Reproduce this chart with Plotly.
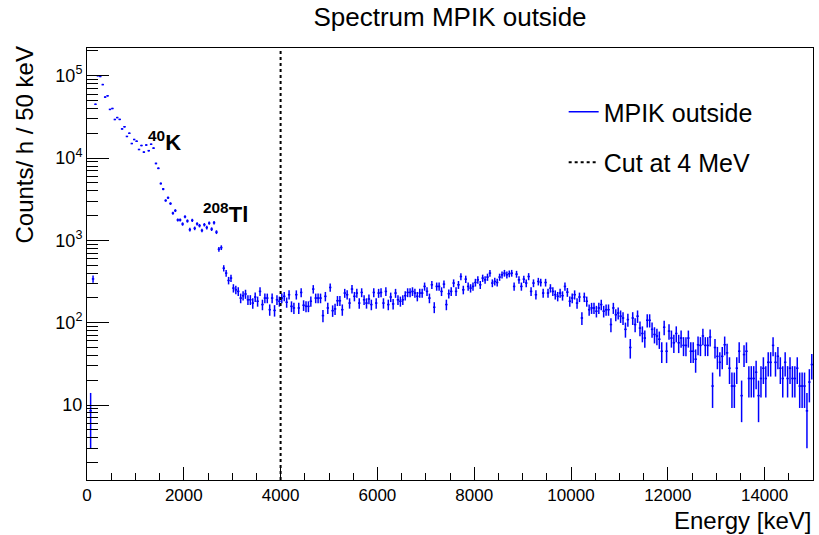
import numpy as np
import plotly.graph_objects as go

# ---------------- data ----------------
BIN_WIDTH_KEV = 50
N_BINS = 300
LIVE_TIME_H = 0.28  # used for Poisson error bars on counts/h

counts_per_h = [
    None, 8.5, 340, 45000, 100000, 98000, 78000, 55000, 57000, 39000,
    40000, 29400, 31000, 29500, 22600, 24000, 18300, 20000, 15000, 16800,
    16000, 12700, 14200, 11800, 14400, 12300, 14700, 13200, 8600, 7500,
    4900, 4200, 3050, 3300, 2800, 2140, 2300, 1770, 1770, 1580,
    1940, 1720, 1350, 1750, 1400, 1590, 1510, 1320, 1550, 1430,
    1620, 1370, 1640, 1260, 780, 817, 459, 400, 326, 348,
    263, 251, 240, 199, 213, 223, 190, 190, 173, 205,
    182, 240, 166, 199, 199, 144, 199, 141, 190, 182,
    199, 209, 177, 219, 158, 151, 219, 151, 233, 163,
    158, 158, 182, 256, 199, 199, 199, 122, 209, 151,
    268, 140, 147, 185, 185, 144, 229, 219, 173, 256,
    209, 229, 173, 233, 190, 173, 194, 166, 233, 173,
    229, 233, 173, 240, 166, 205, 169, 229, 190, 182,
    190, 213, 233, 233, 240, 229, 209, 229, 229, 276,
    240, 199, 289, 154, 276, 276, 240, 294, 166, 225,
    240, 303, 240, 289, 364, 251, 338, 276, 263, 276,
    308, 332, 289, 348, 332, 358, 400, 303, 317, 308,
    358, 382, 400, 382, 393, 400, 276, 389, 332, 276,
    338, 303, 364, 240, 303, 219, 317, 308, 229, 308,
    229, 263, 240, 219, 209, 229, 213, 276, 235, 182,
    199, 219, 173, 205, 114, 205, 182, 144, 151, 151,
    138, 151, 166, 138, 144, 144, 95, 151, 125, 131,
    120, 114, 83, 109, 50, 114, 95, 120, 86, 74,
    65, 107, 107, 83, 72, 69, 63, 45, 88, 45,
    79, 65, 57, 74, 57, 65, 53, 53, 65, 45,
    45, 36, 54, 53, 69, 53, 53, 67, 17, 50,
    39, 33, 39, 54, 43, 28, 17, 17, 28, 45,
    13, 41, 45, 21, 21, 21, 25, 13, 21, 28,
    21, 33, 33, 53, 33, 39, 28, 21, 33, 21,
    28, 21, 21, 28, 17, 17, 17, 8.5, 19, 31,
]

CUT_KEV = 4000
x_tick_vals = [0, 2000, 4000, 6000, 8000, 10000, 12000, 14000]
x_tick_text = ["0", "2000", "4000", "6000", "8000", "10000", "12000", "14000"]
x_minor_vals = [500 * k for k in range(0, 31) if (500 * k) % 2000 != 0]
y_tick_vals = [10, 100, 1000, 10000, 100000]
y_tick_text = ["10", "10<sup>2</sup>", "10<sup>3</sup>", "10<sup>4</sup>", "10<sup>5</sup>"]
y_minor_vals = [m * 10 ** d for d in range(0, 6) for m in range(2, 10)]

# ---------------- derived ----------------
bin_centers = [BIN_WIDTH_KEV * (i + 0.5) for i in range(N_BINS)]
vals = np.array([np.nan if v is None else v for v in counts_per_h], dtype=float)
errs = np.sqrt(vals / LIVE_TIME_H)

FONT = "Liberation Sans, Arial, Helvetica, sans-serif"
BLUE = "#0000ff"

fig = go.Figure()

fig.add_trace(go.Scatter(
    x=bin_centers, y=vals.tolist(),
    mode="markers",
    marker=dict(size=1.5, color=BLUE),
    error_y=dict(type="data", array=errs.tolist(), visible=True,
                 color=BLUE, thickness=1.5, width=0),
    error_x=dict(type="constant", value=BIN_WIDTH_KEV / 2, visible=True,
                 color=BLUE, thickness=1.5, width=0),
    showlegend=False, hoverinfo="x+y",
))

# legend proxies
fig.add_trace(go.Scatter(x=[None], y=[None], mode="lines",
                         line=dict(color=BLUE, width=1.5),
                         name="MPIK outside", legendgroup="a"))
fig.add_trace(go.Scatter(x=[None], y=[None], mode="lines",
                         line=dict(color="black", width=2, dash="dot"),
                         name="Cut at 4 MeV", legendgroup="b"))

fig.add_shape(type="line", x0=CUT_KEV, x1=CUT_KEV, y0=0, y1=1,
              xref="x", yref="paper",
              line=dict(color="black", width=2, dash="dot"))

L, R, T, B = 87, 5.5, 48, 55
W, H = 819, 535
pw, ph = W - L - R, H - T - B

def px2paper(px, py):
    return (px - L) / pw, (H - B - py) / ph

ax, ay = px2paper(146, 141)
fig.add_annotation(text="<b><sup>40</sup>K</b>", x=ax, y=ay, xref="paper", yref="paper",
                   xanchor="left", yanchor="middle", showarrow=False,
                   font=dict(family=FONT, size=22, color="black"))
ax, ay = px2paper(201, 213)
fig.add_annotation(text="<b><sup>208</sup>Tl</b>", x=ax, y=ay, xref="paper", yref="paper",
                   xanchor="left", yanchor="middle", showarrow=False,
                   font=dict(family=FONT, size=22, color="black"))

ax, ay = px2paper(24, 45)
fig.add_annotation(text="Counts/ h / 50 keV", x=ax, y=ay, xref="paper", yref="paper",
                   xanchor="center", yanchor="top", textangle=-90, showarrow=False,
                   font=dict(family=FONT, size=24, color="black"))
ax, ay = px2paper(813.5, 520)
fig.add_annotation(text="Energy [keV]", x=ax, y=ay, xref="paper", yref="paper",
                   xanchor="right", yanchor="middle", showarrow=False,
                   font=dict(family=FONT, size=24, color="black"))

fig.update_layout(
    width=W, height=H,
    margin=dict(l=L, r=R, t=T, b=B),
    paper_bgcolor="white", plot_bgcolor="white",
    font=dict(family=FONT, size=17, color="black"),
    title=dict(text="Spectrum MPIK outside", x=450 / W, xanchor="center",
               y=1 - 17 / H, yanchor="middle", xref="container", yref="container",
               font=dict(family=FONT, size=26, color="black")),
    legend=dict(x=px2paper(564, 0)[0], y=px2paper(0, 89)[1], xanchor="left", yanchor="top",
                bgcolor="rgba(0,0,0,0)", borderwidth=0, tracegroupgap=15,
                font=dict(family=FONT, size=25, color="black")),
    xaxis=dict(range=[0, 15000], tickmode="array", tickvals=x_tick_vals, ticktext=x_tick_text,
               ticks="inside", ticklen=13, tickwidth=1, tickcolor="black",
               minor=dict(tickmode="array", tickvals=x_minor_vals, ticks="inside",
                          ticklen=7, tickwidth=1, tickcolor="black", showgrid=False),
               showline=True, mirror=True, linecolor="black", linewidth=1,
               showgrid=False, zeroline=False,
               tickfont=dict(family=FONT, size=17)),
    yaxis=dict(type="log", range=[0.089, 5.337],
               tickmode="array", tickvals=y_tick_vals, ticktext=y_tick_text,
               ticks="inside", ticklen=22, tickwidth=1, tickcolor="black",
               minor=dict(tickmode="array", tickvals=y_minor_vals, ticks="inside",
                          ticklen=11, tickwidth=1, tickcolor="black", showgrid=False),
               showline=True, mirror=True, linecolor="black", linewidth=1,
               showgrid=False, zeroline=False,
               tickfont=dict(family=FONT, size=18)),
)

fig.write_html("out.html")
